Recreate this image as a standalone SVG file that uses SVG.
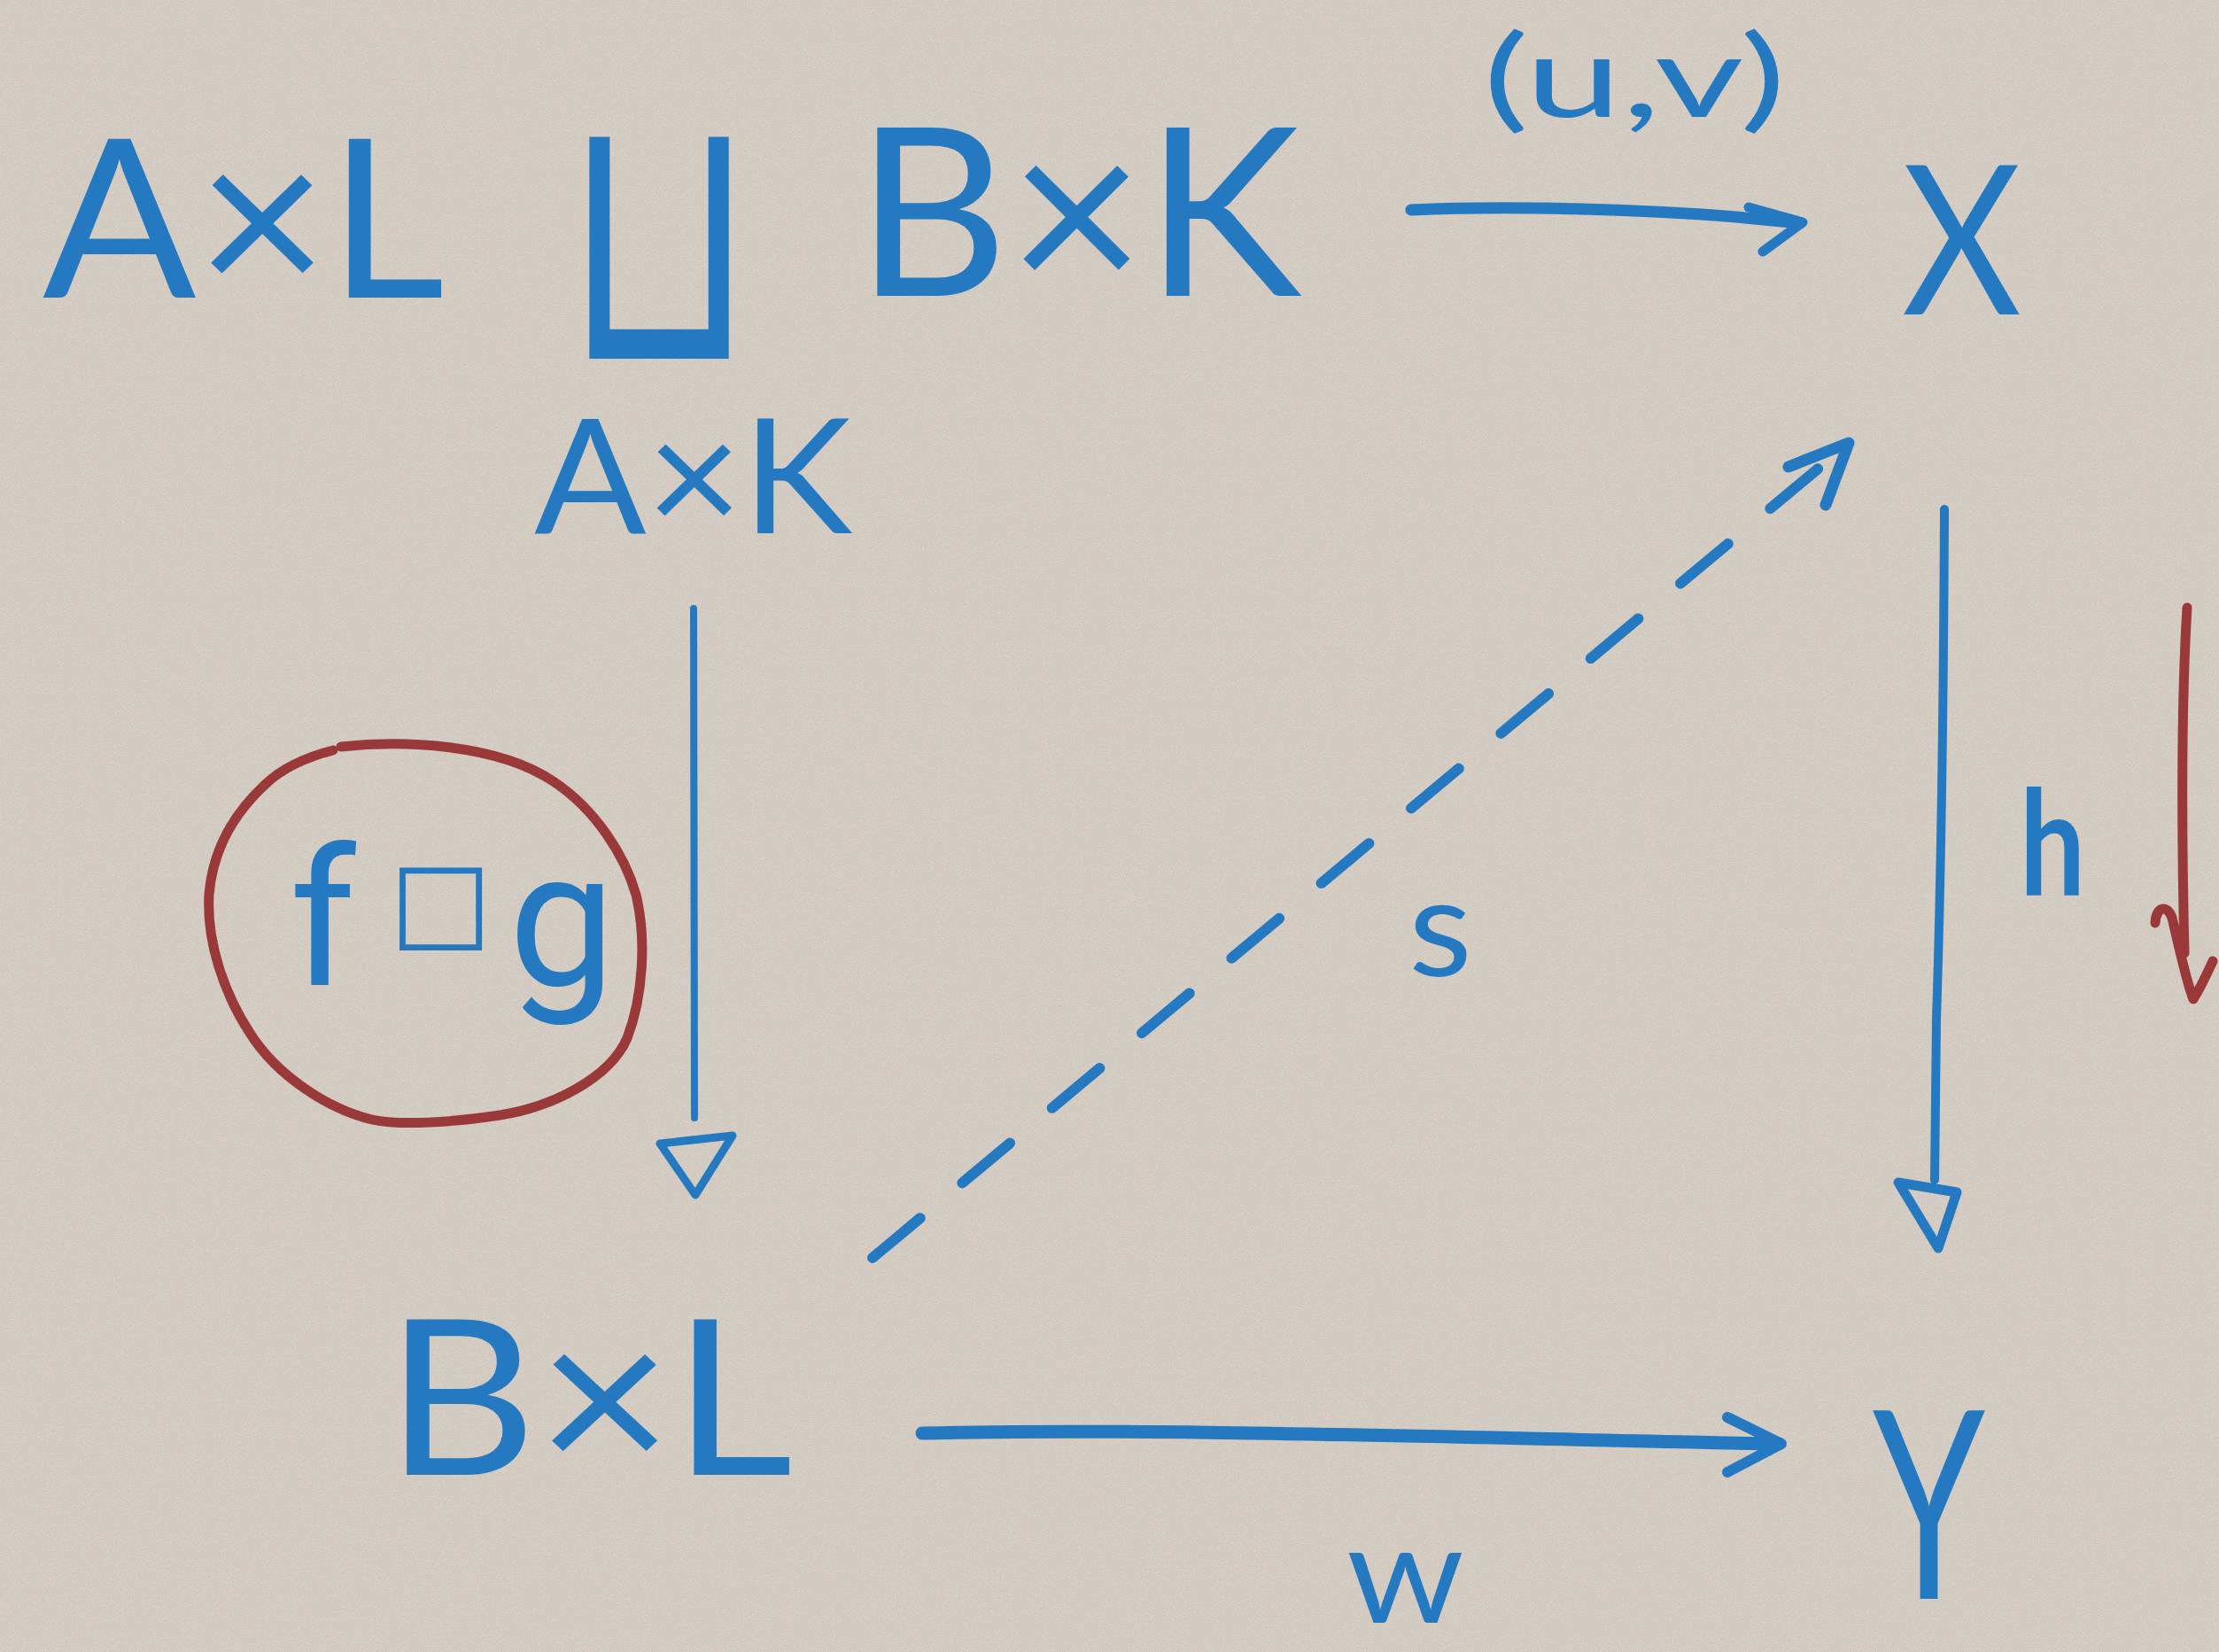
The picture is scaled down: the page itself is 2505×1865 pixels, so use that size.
<svg xmlns="http://www.w3.org/2000/svg" width="2505" height="1865" viewBox="0 0 2505 1865">
  <defs>
    <filter id="paper" x="0" y="0" width="100%" height="100%">
      <feTurbulence type="fractalNoise" baseFrequency="0.85" numOctaves="2" seed="7" result="n"/>
      <feColorMatrix in="n" type="matrix" values="0 0 0 0 0.45  0 0 0 0 0.42  0 0 0 0 0.38  0.9 0 0 0 -0.32"/>
    </filter>
    <style>
      .ink { fill: #2479c1; font-family: Lato, "Liberation Sans", "DejaVu Sans", sans-serif; font-weight: 400; }
      .hand { fill: #2479c1; font-family: Roboto, "Liberation Sans", sans-serif; font-weight: 400; }
      .bold { font-weight: 700; }
      .sym { fill: #2479c1; font-family: "DejaVu Sans", "Liberation Sans", sans-serif; font-weight: 400; }
      .line { fill: none; stroke: #2479c1; stroke-linecap: round; stroke-linejoin: round; }
      .red { fill: none; stroke: #9a393a; stroke-linecap: round; stroke-linejoin: round; }
    </style>
  </defs>

  <!-- paper -->
  <rect width="2505" height="1865" fill="#d8d0c6"/>
  <rect width="2505" height="1865" filter="url(#paper)"/>

  <!-- pushout: A×L ⊔_(A×K) B×K -->
  <g id="node-pushout">
    <text class="ink" x="48" y="336" font-size="250" textLength="454" lengthAdjust="spacingAndGlyphs">A×L</text>
    <text class="sym" x="636" y="405" font-size="400" textLength="216" lengthAdjust="spacingAndGlyphs">⊔</text>
    <text class="ink" x="966" y="334" font-size="265" textLength="503" lengthAdjust="spacingAndGlyphs">B×K</text>
    <text class="ink" x="603" y="602" font-size="180" textLength="359" lengthAdjust="spacingAndGlyphs">A×K</text>
  </g>

  <g id="node-X">
    <text class="ink" x="2147" y="355" font-size="235" textLength="135" lengthAdjust="spacingAndGlyphs">X</text>
  </g>

  <g id="node-BxL">
    <text class="ink" x="435" y="1665" font-size="245" textLength="460" lengthAdjust="spacingAndGlyphs">B×L</text>
  </g>

  <g id="node-Y">
    <text class="ink" x="2114" y="1805" font-size="297" textLength="127" lengthAdjust="spacingAndGlyphs">Y</text>
  </g>

  <!-- circled f□g beside the left map -->
  <g id="node-fg">
    <path class="red" stroke-width="11" d="M385,843 C450,836 560,838 626,883 C672,914 705,965 718,1010 C730,1060 726,1125 708,1172 C688,1218 622,1250 564,1259 C510,1267 452,1271 420,1264 C370,1252 312,1214 282,1166 C252,1120 233,1062 236,1010 C240,960 262,920 300,885 C320,866 345,855 376,847"/>
    <text class="hand" x="327" y="1112" font-size="215">f<tspan class="sym" x="440" y="1058" font-size="122">□</tspan><tspan x="574" y="1112">g</tspan></text>
  </g>

  <!-- arrows -->
  <g id="connectors">
    <!-- (u,v) : pushout → X -->
    <path class="line" stroke-width="13" d="M1593,237 C1700,232 1850,236 1960,245 L2032,252"/>
    <path class="line" stroke-width="11" d="M1974,234 L2035,251 L1990,284"/>
    <!-- f□g : A×L⊔B×K → B×L -->
    <path class="line" stroke-width="8" d="M783,687 L784,1262"/>
    <path class="line" stroke-width="9" d="M745,1291 L827,1282 L785,1349 Z"/>
    <!-- h : X → Y -->
    <path class="line" stroke-width="10" d="M2195,575 C2194,800 2191,1000 2186,1150 L2184,1332"/>
    <path class="line" stroke-width="11" d="M2143,1335 L2209,1346 L2188,1409 Z"/>
    <!-- w : B×L → Y -->
    <path class="line" stroke-width="15" d="M1041,1618 C1300,1612 1600,1622 2008,1630"/>
    <path class="line" stroke-width="12" d="M1950,1600 L2011,1630 L1950,1662"/>
    <!-- s : dashed lift B×L → X -->
    <path class="line" stroke-width="12" stroke-dasharray="70 62" d="M985,1420 L2080,506"/>
    <path class="line" stroke-width="13" d="M2019,527 L2087,500 L2061,570"/>
    <!-- red downward reminder -->
    <path class="red" stroke-width="11" d="M2469,686 C2462,800 2463,950 2466,1076"/>
    <path class="red" stroke-width="11" d="M2433,1042 C2434,1024 2446,1020 2452,1036 C2460,1070 2468,1108 2476,1128 C2485,1114 2492,1098 2498,1085"/>
  </g>

  <!-- map labels -->
  <g id="labels">
    <text class="ink" x="1674" y="132" font-size="128" textLength="342" lengthAdjust="spacingAndGlyphs">(u,v)</text>
    <text class="ink" x="1590" y="1102" font-size="155" textLength="72" lengthAdjust="spacingAndGlyphs">s</text>
    <text class="ink bold" x="2280" y="1010" font-size="165" textLength="74" lengthAdjust="spacingAndGlyphs">h</text>
    <text class="ink" x="1520" y="1832" font-size="155" textLength="133" lengthAdjust="spacingAndGlyphs">w</text>
  </g>
</svg>
